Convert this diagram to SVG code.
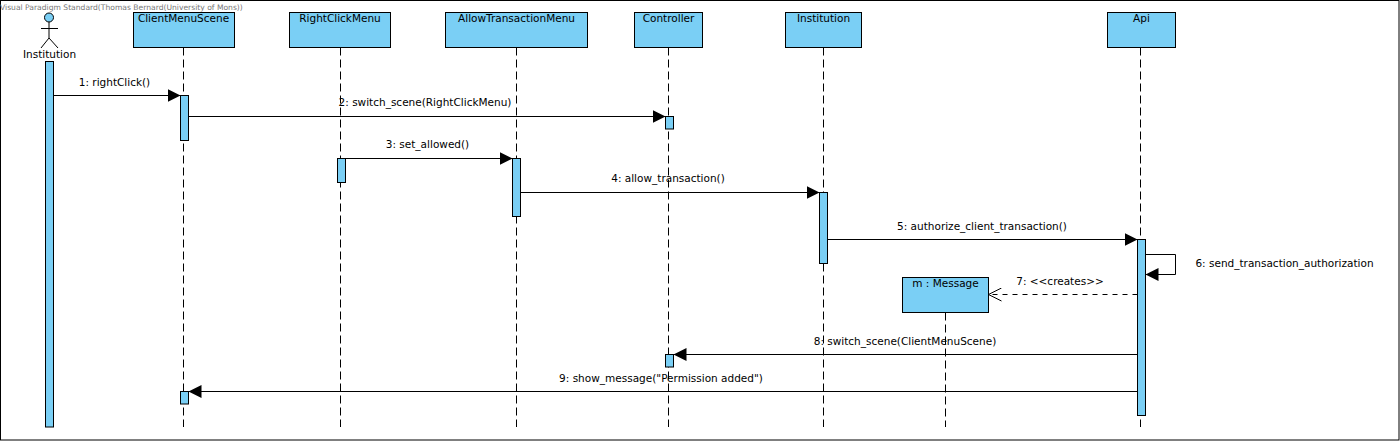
<svg xmlns="http://www.w3.org/2000/svg" width="1400" height="441" viewBox="0 0 1400 441">
<style>
text{font-family:"DejaVu Sans","Liberation Sans",sans-serif;font-size:10.5px;fill:#000;text-anchor:middle}
.wm{font-size:7.6px;fill:#777;text-anchor:start}
.box,.act{fill:#7acff5;stroke:#000;stroke-width:1}
.ll{stroke:#000;stroke-width:1;stroke-dasharray:8 4;fill:none}
.msg{stroke:#000;stroke-width:1;fill:none}
.dash{stroke:#000;stroke-width:1;stroke-dasharray:5 5;fill:none}
.fr{fill:#fff;stroke:#000;stroke-width:1}
.head{fill:#000;stroke:none}
.open{fill:none;stroke:#000;stroke-width:1}
</style>
<defs>
<marker id="solid" markerUnits="userSpaceOnUse" markerWidth="14" markerHeight="14" refX="13" refY="7" orient="auto"><path class="head" d="M0 .5L13 7L0 13.500Z"/></marker>
<marker id="openh" markerUnits="userSpaceOnUse" markerWidth="14" markerHeight="14" refX="13" refY="7" orient="auto"><path class="open" d="M0 .5L13 7L0 13.500"/></marker>
</defs>
<rect class="fr" x="0.5" y="0.5" width="1398.500" height="439.500"/>
<text class="wm" x="0" y="10">Visual Paradigm Standard(Thomas Bernard(University of Mons))</text>
<g id="lifelines">
<path class="ll" d="M183.500 47.500V427M340.500 47.500V427M516.500 47.500V427M668.500 47.500V427M823.500 47.500V427M945.500 312.500V427M1140.500 47.500V427"/>
</g>
<g id="actor-institution">
<circle class="act" cx="49" cy="17.500" r="4.500"/>
<path class="msg" d="M49 22V38M41 28.500H58M49 38L41 48M49 38L58 48"/>
<text x="49.500" y="58">Institution</text>
<rect class="act" x="45.500" y="61.500" width="8" height="365.500"/>
</g>
<g id="client-menu-scene"><rect class="box" x="133.500" y="12.500" width="101" height="35"/><text x="183.500" y="22">ClientMenuScene</text><rect class="act" x="180.500" y="95.500" width="8" height="45"/><rect class="act" x="180.500" y="391.500" width="8" height="12.500"/></g>
<g id="right-click-menu"><rect class="box" x="289.500" y="12.500" width="101" height="35"/><text x="340" y="22">RightClickMenu</text><rect class="act" x="337.500" y="158.500" width="8" height="24"/></g>
<g id="allow-transaction-menu"><rect class="box" x="445.500" y="12.500" width="142" height="35"/><text x="516.500" y="22">AllowTransactionMenu</text><rect class="act" x="512.500" y="158.500" width="8" height="58"/></g>
<g id="controller"><rect class="box" x="634.500" y="12.500" width="68" height="35"/><text x="668.500" y="22">Controller</text><rect class="act" x="665.500" y="116.500" width="8" height="12.500"/><rect class="act" x="665.500" y="354.500" width="8" height="12.500"/></g>
<g id="institution"><rect class="box" x="785.500" y="12.500" width="76" height="35"/><text x="823.500" y="22">Institution</text><rect class="act" x="819.500" y="192.500" width="8" height="71"/></g>
<g id="api"><rect class="box" x="1107.500" y="12.500" width="68" height="35"/><text x="1141.500" y="22">Api</text><rect class="act" x="1137.500" y="239.500" width="8" height="176"/></g>
<g id="message"><rect class="box" x="902.500" y="277.500" width="86" height="35"/><text x="945.500" y="287">m : Message</text></g>
<g id="connectors">
<path class="msg" marker-end="url(#solid)" d="M53.500 95.500H180.500"/>
<path class="msg" marker-end="url(#solid)" d="M188.500 116.500H665.500"/>
<path class="msg" marker-end="url(#solid)" d="M345.500 158.500H512.500"/>
<path class="msg" marker-end="url(#solid)" d="M520.500 192.500H819.500"/>
<path class="msg" marker-end="url(#solid)" d="M827.500 239.500H1137.500"/>
<path class="msg" marker-end="url(#solid)" d="M1145.500 254.500H1175.500V274.500H1145.500"/>
<path class="dash" marker-end="url(#openh)" d="M1137.500 294.500H988.500"/>
<path class="msg" marker-end="url(#solid)" d="M1137.500 354.500H673.500"/>
<path class="msg" marker-end="url(#solid)" d="M1137.500 391.500H188.500"/>
</g>
<g id="labels">
<text x="114.500" y="85.500">1: rightClick()</text>
<text x="425" y="106">2: switch_scene(RightClickMenu)</text>
<text x="427.500" y="148">3: set_allowed()</text>
<text x="668" y="182">4: allow_transaction()</text>
<text x="982" y="230">5: authorize_client_transaction()</text>
<text x="1284.500" y="266.500">6: send_transaction_authorization</text>
<text x="1060" y="285">7: &lt;&lt;creates&gt;&gt;</text>
<text x="905" y="345">8: switch_scene(ClientMenuScene)</text>
<text x="661" y="382">9: show_message("Permission added")</text>
</g>
</svg>
